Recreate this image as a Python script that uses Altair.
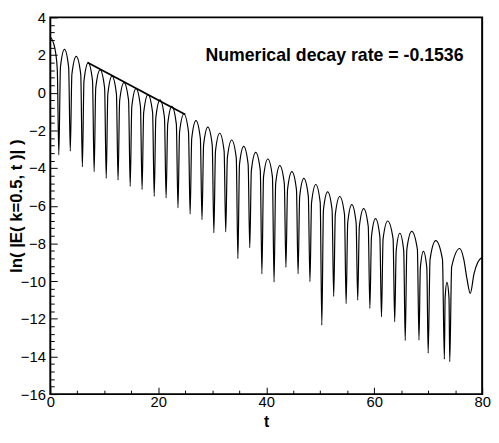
import altair as alt
import pandas as pd

# ---- data ----
head_t = [0.0, 0.6, 1.0, 1.3]
head_y = [2.97, 2.63, 2.10, 1.20]

dip_t = [1.58, 3.70, 5.94, 8.12, 10.36, 12.55, 14.80, 17.00, 19.25, 21.45,
         23.65, 25.90, 28.10, 30.30, 32.50, 34.75, 36.95, 39.20, 41.45, 43.65,
         45.90, 48.10, 50.30, 52.50, 54.80, 56.95, 59.20, 61.35, 63.80, 65.75,
         68.30, 70.00, 73.00, 74.00]
dip_y = [-3.30, -3.10, -3.94, -4.19, -4.55, -4.64, -4.97, -5.14, -5.50, -5.58,
         -6.11, -6.44, -6.74, -7.44, -7.39, -8.81, -8.23, -9.62, -10.05, -9.27,
         -9.61, -10.03, -12.34, -10.82, -11.20, -11.01, -11.45, -11.90, -12.16, -13.16,
         -13.13, -13.83, -14.15, -14.28]

peak_t = [2.62, 4.80, 7.02, 9.22, 11.43, 13.65, 15.88, 18.10, 20.32, 22.52,
          24.75, 26.98, 29.18, 31.38, 33.60, 35.83, 38.05, 40.30, 42.52, 44.75,
          46.97, 49.18, 51.38, 53.62, 55.85, 58.05, 60.25, 62.50, 64.75, 66.95,
          69.12, 71.40, 73.48, 75.85]
peak_y = [2.30, 1.93, 1.58, 1.21, 0.88, 0.54, 0.22, -0.10, -0.38, -0.72,
          -1.13, -1.48, -1.83, -2.15, -2.51, -2.85, -3.17, -3.52, -3.87, -4.19,
          -4.55, -4.87, -5.26, -5.51, -5.94, -6.15, -6.68, -6.81, -7.46, -7.36,
          -8.42, -7.85, -10.07, -8.27]

rise_t = [1.88, 4.00, 6.24, 8.42, 10.66, 12.85, 15.10, 17.30, 19.55, 21.75,
          23.95, 26.20, 28.40, 30.60, 32.80, 35.05, 37.25, 39.50, 41.75, 43.95,
          46.20, 48.40, 50.60, 52.80, 55.10, 57.25, 59.50, 61.65, 64.08, 66.05,
          68.55, 70.35, 73.14, 74.35]
rise_y = [1.35, 0.98, 0.63, 0.26, -0.07, -0.41, -0.73, -1.05, -1.33, -1.67,
          -2.08, -2.43, -2.78, -3.10, -3.46, -3.80, -4.12, -4.47, -4.82, -5.14,
          -5.50, -5.82, -6.21, -6.46, -6.89, -7.10, -7.63, -7.76, -8.38, -8.31,
          -9.30, -8.85, -10.90, -9.25]

fall_t = [3.40, 5.64, 7.82, 10.06, 12.25, 14.50, 16.70, 18.95, 21.15, 23.35,
          25.60, 27.80, 30.00, 32.20, 34.45, 36.65, 38.90, 41.15, 43.35, 45.60,
          47.80, 50.00, 52.20, 54.50, 56.65, 58.90, 61.05, 63.50, 65.47, 68.00,
          69.75, 72.65, 73.86]
fall_y = [1.35, 0.98, 0.63, 0.26, -0.07, -0.41, -0.73, -1.05, -1.33, -1.67,
          -2.08, -2.43, -2.78, -3.10, -3.46, -3.80, -4.12, -4.47, -4.82, -5.14,
          -5.50, -5.82, -6.21, -6.46, -6.89, -7.10, -7.63, -7.76, -8.38, -8.31,
          -9.30, -8.85, -10.90]

tail_t = [76.6, 77.2, 77.8, 78.5, 79.2, 80.0]
tail_y = [-8.85, -9.90, -10.65, -9.60, -9.00, -8.73]

fit_t = [6.9, 25.0]
fit_y = [1.60, -1.16]

note_t = [76.55]
note_y = [1.71]
note_text = ["Numerical decay rate = -0.1536"]

x_major = [0, 20, 40, 60, 80]
x_minor = [5, 10, 15, 25, 30, 35, 45, 50, 55, 65, 70, 75]
y_major = [-16, -14, -12, -10, -8, -6, -4, -2, 0, 2, 4]
y_minor = [-15.6, -15.2, -14.8, -14.4, -13.6, -13.2, -12.8, -12.4,
           -11.6, -11.2, -10.8, -10.4, -9.6, -9.2, -8.8, -8.4,
           -7.6, -7.2, -6.8, -6.4, -5.6, -5.2, -4.8, -4.4,
           -3.6, -3.2, -2.8, -2.4, -1.6, -1.2, -0.8, -0.4,
           0.4, 0.8, 1.2, 1.6, 2.4, 2.8, 3.2, 3.6]

# ---- tables ----
curve = pd.DataFrame({
    "t": head_t + dip_t + peak_t + rise_t + fall_t + tail_t,
    "y": head_y + dip_y + peak_y + rise_y + fall_y + tail_y,
}).sort_values("t").reset_index(drop=True)
fit = pd.DataFrame({"t": fit_t, "y": fit_y})
note = pd.DataFrame({"t": note_t, "y": note_y, "label": note_text})

FONT = "Liberation Sans"
W, H = 439, 383
xs = alt.Scale(domain=[0, 80], nice=False)
ys = alt.Scale(domain=[-16, 4], nice=False)

x_axis_main = alt.Axis(
    values=x_major, orient="bottom", offset=-7, tickSize=7, tickWidth=1,
    tickColor="black", domain=False, grid=False, labelPadding=1,
    labelFont=FONT, labelFontSize=15, labelColor="black", labelFlush=False,
    labelOverlap=False, title="t", titleFont=FONT, titleFontSize=16,
    titleFontWeight="bold", titleColor="black", titleY=40,
    titleBaseline="alphabetic")
y_axis_main = alt.Axis(
    values=y_major, orient="left", offset=-7, tickSize=7, tickWidth=1,
    tickColor="black", domain=False, grid=False, labelPadding=5,
    labelFont=FONT, labelFontSize=15, labelColor="black", labelFlush=False,
    labelOverlap=False, title="ln( |E( k=0.5, t )| )", titleFont=FONT,
    titleFontSize=17, titleFontWeight="bold", titleColor="black",
    titleX=-36, titleBaseline="alphabetic", titleAngle=270)

x_axis_minor = alt.Axis(
    values=x_minor, orient="bottom", offset=-4, tickSize=4, tickWidth=1,
    tickColor="black", domain=False, grid=False, labels=False, title="")
y_axis_minor = alt.Axis(
    values=y_minor, orient="left", offset=-4, tickSize=4, tickWidth=1,
    tickColor="black", domain=False, grid=False, labels=False, title="")

curve_layer = alt.Chart(curve).mark_line(
    interpolate="monotone", color="black", strokeWidth=1.2, clip=True
).encode(
    x=alt.X("t:Q", scale=xs, axis=x_axis_main),
    y=alt.Y("y:Q", scale=ys, axis=y_axis_main),
)

minor_layer = alt.Chart(curve).mark_line(strokeOpacity=0).encode(
    x=alt.X("t:Q", scale=xs, axis=x_axis_minor),
    y=alt.Y("y:Q", scale=ys, axis=y_axis_minor),
)

fit_layer = alt.Chart(fit).mark_line(color="black", strokeWidth=1.8).encode(
    x=alt.X("t:Q", scale=xs, axis=None),
    y=alt.Y("y:Q", scale=ys, axis=None),
)

note_layer = alt.Chart(note).mark_text(
    align="right", baseline="alphabetic", font=FONT, fontSize=18,
    fontWeight="bold", color="black"
).encode(
    x=alt.X("t:Q", scale=xs, axis=None),
    y=alt.Y("y:Q", scale=ys, axis=None),
    text="label:N",
)

chart = alt.layer(curve_layer, minor_layer, fit_layer, note_layer).resolve_axis(
    x="independent", y="independent"
).properties(
    width=W, height=H,
    padding={"left": 43, "top": 6, "right": 9, "bottom": 37},
    autosize=alt.AutoSizeParams(type="none"),
    background="white",
).configure_view(stroke="black", strokeWidth=2)

chart.save("out.html", embed_options={"renderer": "svg", "actions": False})
